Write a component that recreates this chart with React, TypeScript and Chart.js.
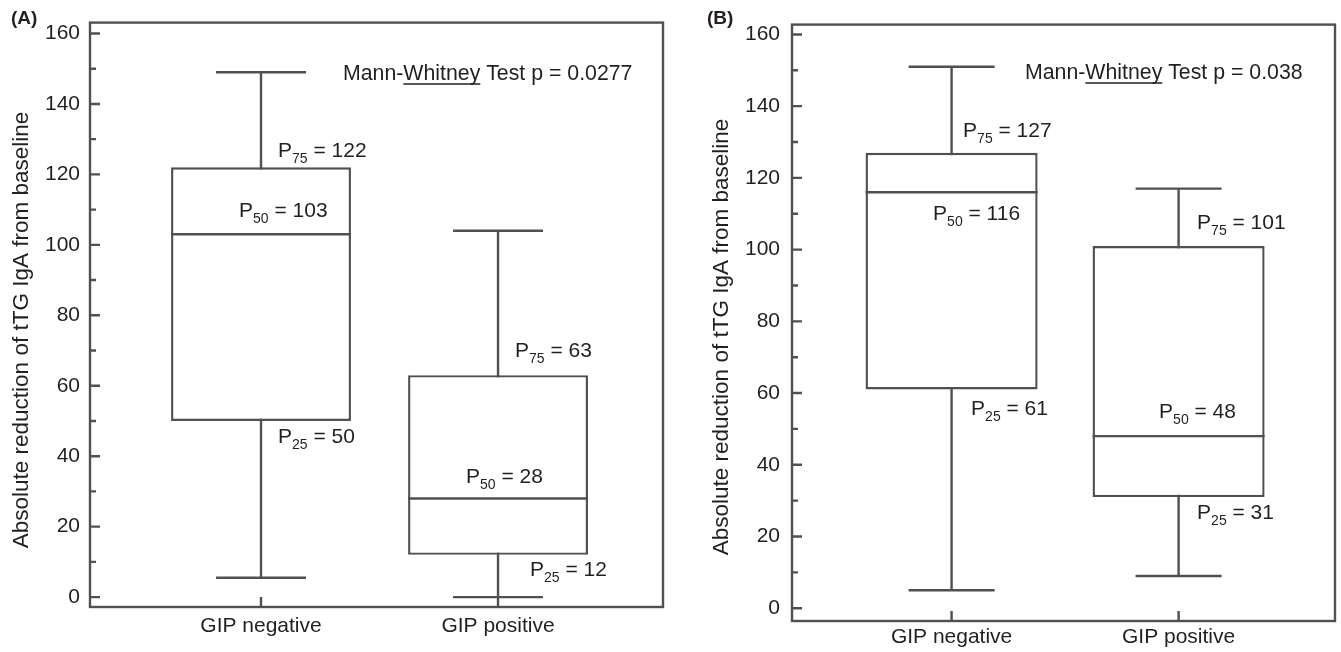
import React, { useEffect, useRef } from "react";
import { Chart, registerables } from "chart.js";

Chart.register(...registerables);

// ---------- data ----------
const categories = ["GIP negative", "GIP positive"];
const yTickValues = [0, 20, 40, 60, 80, 100, 120, 140, 160];
const yMinorTickValues = [10, 30, 50, 70, 90, 110, 130, 150];
const yTitle = "Absolute reduction of tTG IgA from baseline";

// Panel A
const aWhiskerLow = [5.5, 0];
const aP25 = [50, 12];
const aP50 = [103, 28];
const aP75 = [122, 63];
const aWhiskerHigh = [149, 104];
const aTest = "p = 0.0277";

// Panel B
const bWhiskerLow = [5, 9];
const bP25 = [61, 31];
const bP50 = [116, 48];
const bP75 = [127, 101];
const bWhiskerHigh = [151, 117];
const bTest = "p = 0.038";

// ---------- styles ----------
const FONT = "'Liberation Sans', Arial, Helvetica, sans-serif";
const LINE = "#505050";
const LW = 2.4;
const TEXT = "#231f20";

type Stats = { lo: number[]; q1: number[]; med: number[]; q3: number[]; hi: number[] };
type Layout = {
  width: number; height: number; left: number;
  padTop: number; padRight: number; yAxisWidth: number; xAxisHeight: number;
  yTickPad: number; xTickPad: number; titleX: number; titleY: number;
  xMin: number; xMax: number; yMin: number; yMax: number; barPct: number;
  letterX: number; testX: number; testY: number;
  offs: number[][][];
};

const layoutA: Layout = {
  width: 672, height: 652, left: 0,
  padTop: 16, padRight: 9, yAxisWidth: 90, xAxisHeight: 45,
  yTickPad: 10, xTickPad: 7, titleX: 22, titleY: 330,
  xMin: 0.2785, xMax: 2.696, yMin: -2.81, yMax: 163.09, barPct: 0.759,
  letterX: 11, testX: 343, testY: 80,
  offs: [
    [[17, -10], [-22, -17], [17, 22]],
    [[17, -18], [-32, -15], [32, 21]],
  ],
};

const layoutB: Layout = {
  width: 669, height: 652, left: 672,
  padTop: 14, padRight: 6, yAxisWidth: 120, xAxisHeight: 31,
  yTickPad: 12, xTickPad: 4, titleX: 50, titleY: 337,
  xMin: 0.297, xMax: 2.689, yMin: -3.56, yMax: 162.74, barPct: 0.758,
  letterX: 35, testX: 353, testY: 79,
  offs: [
    [[11.5, -16], [-18.5, 28], [19.5, 26]],
    [[18.5, -17], [-19.5, -18], [18.5, 22]],
  ],
};

function drawPLabel(ctx: CanvasRenderingContext2D, x: number, y: number, sub: string, value: number) {
  ctx.fillStyle = TEXT;
  ctx.textAlign = "left";
  ctx.textBaseline = "alphabetic";
  ctx.font = `21px ${FONT}`;
  ctx.fillText("P", x, y);
  let cx = x + ctx.measureText("P").width;
  ctx.font = `14px ${FONT}`;
  ctx.fillText(sub, cx, y + 6);
  cx += ctx.measureText(sub).width;
  ctx.font = `21px ${FONT}`;
  ctx.fillText(` = ${value}`, cx, y);
}

function Panel({ letter, stats, test, layout }: { letter: string; stats: Stats; test: string; layout: Layout }) {
  const ref = useRef<HTMLCanvasElement | null>(null);

  useEffect(() => {
    if (!ref.current) return;
    const L = layout;

    const boxPlugin = {
      id: "boxPlugin" + letter,
      beforeDatasetsDraw(chart: any) {
        const { ctx } = chart;
        const xs = chart.scales.x;
        const ys = chart.scales.y;
        const meta = chart.getDatasetMeta(0);
        ctx.save();
        ctx.strokeStyle = LINE;
        ctx.lineWidth = LW;
        categories.forEach((_, i) => {
          const bar = meta.data[i];
          const x = xs.getPixelForValue(i + 1);
          const half = bar.width * 0.25;
          const yHi = ys.getPixelForValue(stats.hi[i]);
          const yLo = ys.getPixelForValue(stats.lo[i]);
          ctx.beginPath();
          ctx.moveTo(x, yHi);
          ctx.lineTo(x, yLo);
          ctx.moveTo(x - half, yHi);
          ctx.lineTo(x + half, yHi);
          ctx.moveTo(x - half, yLo);
          ctx.lineTo(x + half, yLo);
          ctx.stroke();
        });
        ctx.restore();
      },
      afterDatasetsDraw(chart: any) {
        const { ctx, chartArea } = chart;
        const xs = chart.scales.x;
        const ys = chart.scales.y;
        const meta = chart.getDatasetMeta(0);
        ctx.save();
        ctx.strokeStyle = LINE;
        ctx.lineWidth = LW;
        categories.forEach((_, i) => {
          const bar = meta.data[i];
          const y = ys.getPixelForValue(stats.med[i]);
          ctx.beginPath();
          ctx.moveTo(bar.x - bar.width / 2, y);
          ctx.lineTo(bar.x + bar.width / 2, y);
          ctx.stroke();
        });
        ctx.strokeRect(chartArea.left, chartArea.top, chartArea.right - chartArea.left, chartArea.bottom - chartArea.top);
        ctx.beginPath();
        yTickValues.forEach((v) => {
          const y = ys.getPixelForValue(v);
          ctx.moveTo(chartArea.left, y);
          ctx.lineTo(chartArea.left + 10, y);
        });
        yMinorTickValues.forEach((v) => {
          const y = ys.getPixelForValue(v);
          ctx.moveTo(chartArea.left, y);
          ctx.lineTo(chartArea.left + 6, y);
        });
        categories.forEach((_, i) => {
          const x = xs.getPixelForValue(i + 1);
          ctx.moveTo(x, chartArea.bottom);
          ctx.lineTo(x, chartArea.bottom - 10);
        });
        ctx.stroke();

        categories.forEach((_, i) => {
          const x = xs.getPixelForValue(i + 1);
          const vals = [stats.q3[i], stats.med[i], stats.q1[i]];
          const subs = ["75", "50", "25"];
          vals.forEach((v, k) => {
            const [dx, dy] = L.offs[i][k];
            drawPLabel(ctx, x + dx, ys.getPixelForValue(v) + dy, subs[k], v);
          });
        });

        ctx.fillStyle = TEXT;
        ctx.font = `21.3px ${FONT}`;
        ctx.textAlign = "left";
        ctx.textBaseline = "alphabetic";
        const p1 = "Mann-";
        const p2 = "Whitney";
        const p3 = " Test " + test;
        let tx = L.testX;
        ctx.fillText(p1, tx, L.testY);
        tx += ctx.measureText(p1).width;
        const wW = ctx.measureText(p2).width;
        ctx.fillText(p2, tx, L.testY);
        ctx.strokeStyle = TEXT;
        ctx.lineWidth = 1.3;
        ctx.beginPath();
        ctx.moveTo(tx, L.testY + 4);
        ctx.lineTo(tx + wW, L.testY + 4);
        ctx.stroke();
        tx += wW;
        ctx.fillText(p3, tx, L.testY);

        ctx.font = `bold 19px ${FONT}`;
        ctx.fillText(`(${letter})`, L.letterX, 24);

        ctx.font = `22.5px ${FONT}`;
        ctx.textAlign = "center";
        ctx.textBaseline = "middle";
        ctx.translate(L.titleX, L.titleY);
        ctx.rotate(-Math.PI / 2);
        ctx.fillText(yTitle, 0, 0);
        ctx.restore();
      },
    };

    const chart = new Chart(ref.current, {
      type: "bar",
      data: {
        datasets: [
          {
            data: categories.map((_, i) => ({ x: i + 1, y: [stats.q1[i], stats.q3[i]] })) as any,
            backgroundColor: "#ffffff",
            borderColor: LINE,
            borderWidth: LW,
            borderSkipped: false,
            categoryPercentage: 1,
            barPercentage: L.barPct,
          },
        ],
      },
      options: {
        responsive: false,
        maintainAspectRatio: false,
        animation: false,
        layout: { padding: { left: 0, top: L.padTop, right: L.padRight, bottom: 0 } },
        plugins: { legend: { display: false }, tooltip: { enabled: false } },
        scales: {
          x: {
            type: "linear",
            offset: false,
            min: L.xMin,
            max: L.xMax,
            grid: { display: false, drawTicks: false, offset: false },
            border: { display: false },
            afterBuildTicks: (s: any) => {
              s.ticks = categories.map((_, i) => ({ value: i + 1 }));
            },
            afterFit: (s: any) => {
              s.height = L.xAxisHeight;
            },
            ticks: {
              autoSkip: false,
              maxRotation: 0,
              padding: L.xTickPad,
              color: TEXT,
              font: { family: FONT, size: 21 },
              callback: (v: any) => categories[Math.round(Number(v)) - 1] ?? "",
            },
          },
          y: {
            type: "linear",
            min: L.yMin,
            max: L.yMax,
            grid: { display: false, drawTicks: false },
            border: { display: false },
            afterBuildTicks: (s: any) => {
              s.ticks = yTickValues.map((v) => ({ value: v }));
            },
            afterFit: (s: any) => {
              s.width = L.yAxisWidth;
            },
            ticks: {
              padding: L.yTickPad,
              color: TEXT,
              font: { family: FONT, size: 21 },
              callback: (v: any) => String(v),
            },
          },
        },
      },
      plugins: [boxPlugin],
    });
    return () => chart.destroy();
  }, [letter, stats, test, layout]);

  return (
    <canvas
      ref={ref}
      width={layout.width}
      height={layout.height}
      style={{ position: "absolute", left: layout.left, top: 0, width: layout.width, height: layout.height }}
    />
  );
}

const statsA: Stats = { lo: aWhiskerLow, q1: aP25, med: aP50, q3: aP75, hi: aWhiskerHigh };
const statsB: Stats = { lo: bWhiskerLow, q1: bP25, med: bP50, q3: bP75, hi: bWhiskerHigh };

export default function App() {
  return (
    <div style={{ position: "fixed", left: 0, top: 0, width: 1341, height: 652, background: "#fff", overflow: "hidden" }}>
      <Panel letter="A" stats={statsA} test={aTest} layout={layoutA} />
      <Panel letter="B" stats={statsB} test={bTest} layout={layoutB} />
    </div>
  );
}
